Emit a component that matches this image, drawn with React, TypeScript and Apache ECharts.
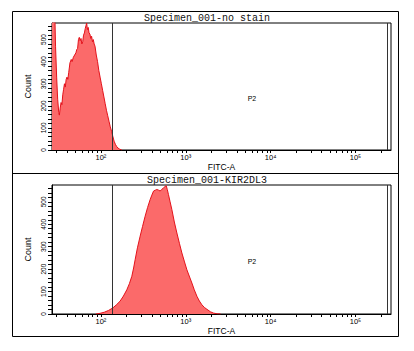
import React, { useEffect, useRef } from "react";
import * as echarts from "echarts";

// FITC-A bin positions are stored as log10(intensity)
const topTitle = "Specimen_001-no stain";
const bottomTitle = "Specimen_001-KIR2DL3";
const xName = "FITC-A";
const yName = "Count";
const gateName = "P2";

const topX = [1.423, 1.445, 1.455, 1.465, 1.478, 1.49, 1.503, 1.51, 1.52, 1.53, 1.54, 1.55, 1.56, 1.57, 1.58, 1.59, 1.6, 1.61, 1.62, 1.635, 1.65, 1.66, 1.675, 1.69, 1.705, 1.715, 1.725, 1.735, 1.745, 1.755, 1.765, 1.775, 1.785, 1.795, 1.805, 1.815, 1.825, 1.832, 1.84, 1.85, 1.86, 1.87, 1.88, 1.89, 1.9, 1.91, 1.92, 1.93, 1.945, 1.96, 1.975, 1.99, 2.005, 2.02, 2.035, 2.05, 2.065, 2.08, 2.095, 2.11, 2.125, 2.14, 2.155, 2.17, 2.185, 2.2, 2.22, 2.245];
const topCount = [700, 700, 640, 470, 330, 230, 170, 158, 190, 215, 205, 250, 275, 300, 285, 320, 330, 320, 350, 395, 410, 400, 420, 430, 440, 455, 460, 500, 510, 495, 505, 480, 490, 520, 530, 550, 565, 575, 545, 555, 530, 525, 505, 515, 490, 500, 480, 470, 430, 400, 360, 330, 300, 270, 240, 210, 180, 155, 130, 105, 85, 62, 40, 26, 16, 9, 4, 0];

const bottomX = [1.94, 1.99, 2.04, 2.09, 2.14, 2.18, 2.225, 2.265, 2.305, 2.335, 2.364, 2.385, 2.403, 2.43, 2.462, 2.49, 2.521, 2.55, 2.58, 2.6, 2.62, 2.64, 2.659, 2.68, 2.698, 2.715, 2.737, 2.755, 2.769, 2.782, 2.796, 2.815, 2.836, 2.865, 2.895, 2.925, 2.954, 2.985, 3.013, 3.045, 3.072, 3.1, 3.131, 3.16, 3.19, 3.22, 3.249, 3.29, 3.327, 3.37, 3.41];
const bottomCount = [0, 3, 8, 16, 27, 40, 57, 80, 108, 135, 168, 205, 242, 295, 347, 390, 436, 475, 510, 530, 548, 552, 555, 552, 548, 555, 562, 568, 572, 555, 532, 500, 465, 410, 361, 315, 272, 232, 197, 165, 138, 108, 79, 58, 41, 29, 21, 10, 4, 1, 0];

const xMin = 1.4232;
const xMax = 5.4185;
const yMax = 575;
const gateLow = 2.133;
const gateHigh = 5.375;
const gateLabelPos = [3.78, 235];

const xMajor = [2, 3, 4, 5];
const xMajorLabels = ["10²", "10³", "10⁴", "10⁵"];
const yMajor = [0, 100, 200, 300, 400, 500];

function xTickValues(): number[] {
  const v: number[] = [];
  for (let d = 1; d <= 5; d++) {
    for (let k = 1; k <= 9; k++) {
      const l = d + Math.log10(k);
      if (l >= xMin && l <= xMax) v.push(l);
    }
  }
  return v;
}
function yTickValues(): number[] {
  const v: number[] = [];
  for (let c = 0; c <= 560; c += 20) v.push(c);
  return v;
}

const FILL = "#fb6a6a";
const EDGE = "#e3121b";
const LABEL_FONT = "Liberation Sans, Arial, sans-serif";
const NARROW_FONT = "Liberation Sans Narrow, Liberation Sans, sans-serif";

export default function App() {
  const ref = useRef<HTMLDivElement>(null);
  useEffect(() => {
    if (!ref.current) return;
    const chart = echarts.init(ref.current, null, { renderer: "svg" });
    const grids = [
      { left: 52, top: 23, width: 339, height: 127 },
      { left: 52, top: 185, width: 339, height: 129 },
    ];
    const xAxisBase = (gi: number) => ({
      type: "value" as const,
      gridIndex: gi,
      min: xMin,
      max: xMax,
      name: xName,
      nameLocation: "middle" as const,
      nameGap: 12,
      nameTextStyle: { fontFamily: LABEL_FONT, fontSize: 8.5, color: "#000" },
      axisLine: { lineStyle: { color: "#000", width: 1 } },
      axisTick: { show: true, length: 3, customValues: xTickValues(), lineStyle: { color: "#000" } },
      axisLabel: {
        customValues: xMajor,
        formatter: (v: number) => xMajorLabels[xMajor.indexOf(Math.round(v))] ?? "",
        fontFamily: LABEL_FONT,
        fontSize: 7.5,
        color: "#000",
        margin: 3,
      },
      splitLine: { show: false },
    });
    const yAxisBase = (gi: number) => ({
      type: "value" as const,
      gridIndex: gi,
      min: 0,
      max: yMax,
      name: yName,
      nameLocation: "middle" as const,
      nameGap: 20,
      nameTextStyle: { fontFamily: NARROW_FONT, fontSize: 9, color: "#000" },
      axisLine: { show: true, lineStyle: { color: "#000", width: 1 } },
      axisTick: { show: true, length: 4, customValues: yTickValues(), lineStyle: { color: "#000" } },
      axisLabel: {
        customValues: yMajor,
        rotate: 90,
        fontFamily: NARROW_FONT,
        fontSize: 6.5,
        color: "#000",
        margin: 5,
      },
      splitLine: { show: false },
    });
    const seriesFor = (gi: number, xs: number[], ys: number[]) => ({
      type: "line" as const,
      xAxisIndex: gi,
      yAxisIndex: gi,
      data: xs.map((x, i) => [x, ys[i]]),
      showSymbol: false,
      symbol: "none",
      smooth: false,
      clip: true,
      lineStyle: { color: EDGE, width: 1 },
      areaStyle: { color: FILL, opacity: 1 },
      markLine: {
        silent: true,
        symbol: "none",
        label: { show: false },
        lineStyle: { color: "#333", width: 1, type: "solid" },
        data: [{ xAxis: gateLow }, { xAxis: gateHigh }],
      },
      markPoint: {
        silent: true,
        symbol: "circle",
        symbolSize: 1,
        itemStyle: { color: "rgba(0,0,0,0)" },
        label: {
          show: true,
          position: "inside",
          formatter: gateName,
          color: "#000",
          fontFamily: LABEL_FONT,
          fontSize: 7,
        },
        data: [{ coord: gateLabelPos }],
      },
    });
    const titleStyle = { fontFamily: "Liberation Mono, monospace", fontSize: 10, fontWeight: "normal" as const, color: "#111" };
    chart.setOption({
      animation: false,
      backgroundColor: "#fff",
      title: [
        { text: topTitle, left: "center", top: 13.5, padding: 0, textStyle: titleStyle },
        { text: bottomTitle, left: "center", top: 175.5, padding: 0, textStyle: titleStyle },
      ],
      grid: grids.map((g) => ({ ...g, show: true, borderColor: "#000", borderWidth: 1, backgroundColor: "transparent" })),
      xAxis: [xAxisBase(0), xAxisBase(1)],
      yAxis: [yAxisBase(0), yAxisBase(1)],
      series: [seriesFor(0, topX, topCount), seriesFor(1, bottomX, bottomCount)],
      graphic: [
        {
          type: "rect",
          shape: { x: 12.5, y: 11.5, width: 386, height: 325 },
          style: { fill: "none", stroke: "#000", lineWidth: 1 },
          silent: true,
        },
        {
          type: "line",
          shape: { x1: 12.5, y1: 173.5, x2: 398.5, y2: 173.5 },
          style: { stroke: "#000", lineWidth: 1 },
          silent: true,
        },
      ],
    });
    return () => chart.dispose();
  }, []);
  return (
    <div
      ref={ref}
      style={{ position: "fixed", left: 0, top: 0, width: 414, height: 351, background: "#fff" }}
    />
  );
}
